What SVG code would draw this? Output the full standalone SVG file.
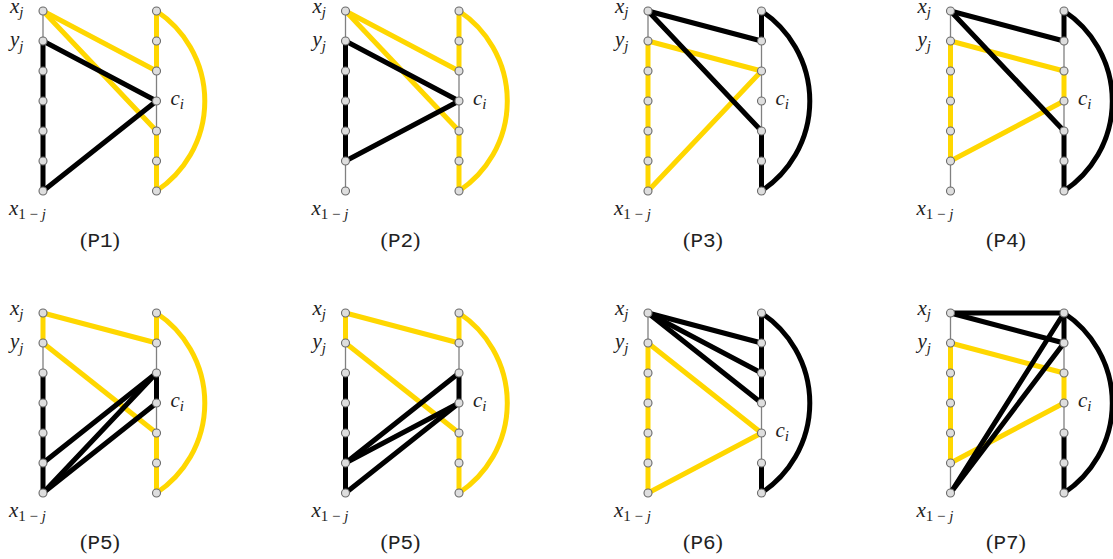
<svg xmlns="http://www.w3.org/2000/svg" xmlns:xlink="http://www.w3.org/1999/xlink" width="1113" height="559" viewBox="0 0 1113 559">
<style>
.bg{fill:#fff}
.thin{stroke:#808080;stroke-width:1.3;fill:none}
.y{stroke:#FFD700;stroke-width:5;fill:none;stroke-linecap:round;stroke-linejoin:round}
.k{stroke:#000;stroke-width:5;fill:none;stroke-linecap:round;stroke-linejoin:round}
.v{fill:#dedede;stroke:#6a6a6a;stroke-width:1.1}
.m{font-family:"Liberation Serif","DejaVu Serif",serif;font-style:italic;font-size:21px;fill:#222}
.s{font-size:15px}
.u{font-style:normal}
.cap{font-family:"Liberation Serif","DejaVu Serif",serif;font-size:22px;fill:#222}
.tt{font-family:"Liberation Mono","DejaVu Sans Mono",monospace;font-size:21px}
</style>
<defs>
<path id="arc" d="M113.5,0 A108 108 0 0 1 113.5,180"/>
<g id="cols">
<line class="thin" x1="0" y1="0" x2="0" y2="180"/>
<line class="thin" x1="113.5" y1="0" x2="113.5" y2="180"/>
</g>
</defs>
<rect class="bg" width="1113" height="559"/>

<!-- P1 -->
<g id="P1" transform="translate(43,11)">
<g id="P1-connectors">
<use xlink:href="#cols"/>
<line class="y" x1="113.5" y1="0" x2="113.5" y2="60"/>
<line class="y" x1="113.5" y1="120" x2="113.5" y2="180"/>
<line class="y" x1="0" y1="0" x2="113.5" y2="60"/>
<line class="y" x1="0" y1="0" x2="113.5" y2="120"/>
<use xlink:href="#arc" class="y"/>
<line class="k" x1="0" y1="30" x2="0" y2="180"/>
<line class="k" x1="0" y1="30" x2="113.5" y2="90"/>
<line class="k" x1="0" y1="180" x2="113.5" y2="90"/>
</g>
<g id="P1-L0"><circle class="v" cx="0" cy="0" r="4"/><text class="m" x="-33" y="2">x<tspan class="s" dy="4">j</tspan></text></g>
<g id="P1-L1"><circle class="v" cx="0" cy="30" r="4"/><text class="m" x="-33" y="35">y<tspan class="s" dy="5">j</tspan></text></g>
<g id="P1-L2"><circle class="v" cx="0" cy="60" r="4"/></g>
<g id="P1-L3"><circle class="v" cx="0" cy="90" r="4"/></g>
<g id="P1-L4"><circle class="v" cx="0" cy="120" r="4"/></g>
<g id="P1-L5"><circle class="v" cx="0" cy="150" r="4"/></g>
<g id="P1-L6"><circle class="v" cx="0" cy="180" r="4"/><text class="m" x="-34" y="204">x<tspan class="s u" dy="4">1 − </tspan><tspan class="s">j</tspan></text></g>
<g id="P1-R0"><circle class="v" cx="113.5" cy="0" r="4"/></g>
<g id="P1-R1"><circle class="v" cx="113.5" cy="30" r="4"/></g>
<g id="P1-R2"><circle class="v" cx="113.5" cy="60" r="4"/></g>
<g id="P1-R3"><circle class="v" cx="113.5" cy="90" r="4"/><text class="m" x="127.5" y="94">c<tspan class="s" dy="4">i</tspan></text></g>
<g id="P1-R4"><circle class="v" cx="113.5" cy="120" r="4"/></g>
<g id="P1-R5"><circle class="v" cx="113.5" cy="150" r="4"/></g>
<g id="P1-R6"><circle class="v" cx="113.5" cy="180" r="4"/></g>
<text class="cap" x="57" y="236" text-anchor="middle">(<tspan class="tt">P1</tspan>)</text>
</g>

<!-- P2 -->
<g id="P2" transform="translate(345.5,11)">
<g id="P2-connectors">
<use xlink:href="#cols"/>
<line class="y" x1="113.5" y1="0" x2="113.5" y2="60"/>
<line class="y" x1="113.5" y1="120" x2="113.5" y2="180"/>
<line class="y" x1="0" y1="0" x2="113.5" y2="60"/>
<line class="y" x1="0" y1="0" x2="113.5" y2="120"/>
<use xlink:href="#arc" class="y"/>
<line class="k" x1="0" y1="30" x2="0" y2="150"/>
<line class="k" x1="0" y1="30" x2="113.5" y2="90"/>
<line class="k" x1="0" y1="150" x2="113.5" y2="90"/>
</g>
<g id="P2-L0"><circle class="v" cx="0" cy="0" r="4"/><text class="m" x="-33" y="2">x<tspan class="s" dy="4">j</tspan></text></g>
<g id="P2-L1"><circle class="v" cx="0" cy="30" r="4"/><text class="m" x="-33" y="35">y<tspan class="s" dy="5">j</tspan></text></g>
<g id="P2-L2"><circle class="v" cx="0" cy="60" r="4"/></g>
<g id="P2-L3"><circle class="v" cx="0" cy="90" r="4"/></g>
<g id="P2-L4"><circle class="v" cx="0" cy="120" r="4"/></g>
<g id="P2-L5"><circle class="v" cx="0" cy="150" r="4"/></g>
<g id="P2-L6"><circle class="v" cx="0" cy="180" r="4"/><text class="m" x="-34" y="204">x<tspan class="s u" dy="4">1 − </tspan><tspan class="s">j</tspan></text></g>
<g id="P2-R0"><circle class="v" cx="113.5" cy="0" r="4"/></g>
<g id="P2-R1"><circle class="v" cx="113.5" cy="30" r="4"/></g>
<g id="P2-R2"><circle class="v" cx="113.5" cy="60" r="4"/></g>
<g id="P2-R3"><circle class="v" cx="113.5" cy="90" r="4"/><text class="m" x="127.5" y="94">c<tspan class="s" dy="4">i</tspan></text></g>
<g id="P2-R4"><circle class="v" cx="113.5" cy="120" r="4"/></g>
<g id="P2-R5"><circle class="v" cx="113.5" cy="150" r="4"/></g>
<g id="P2-R6"><circle class="v" cx="113.5" cy="180" r="4"/></g>
<text class="cap" x="55" y="236" text-anchor="middle">(<tspan class="tt">P2</tspan>)</text>
</g>

<!-- P3 -->
<g id="P3" transform="translate(648,11)">
<g id="P3-connectors">
<use xlink:href="#cols"/>
<line class="y" x1="0" y1="30" x2="0" y2="180"/>
<line class="y" x1="0" y1="30" x2="113.5" y2="60"/>
<line class="y" x1="0" y1="180" x2="113.5" y2="60"/>
<line class="k" x1="113.5" y1="0" x2="113.5" y2="30"/>
<line class="k" x1="113.5" y1="120" x2="113.5" y2="180"/>
<use xlink:href="#arc" class="k"/>
<line class="k" x1="0" y1="0" x2="113.5" y2="30"/>
<line class="k" x1="0" y1="0" x2="113.5" y2="120"/>
</g>
<g id="P3-L0"><circle class="v" cx="0" cy="0" r="4"/><text class="m" x="-33" y="2">x<tspan class="s" dy="4">j</tspan></text></g>
<g id="P3-L1"><circle class="v" cx="0" cy="30" r="4"/><text class="m" x="-33" y="35">y<tspan class="s" dy="5">j</tspan></text></g>
<g id="P3-L2"><circle class="v" cx="0" cy="60" r="4"/></g>
<g id="P3-L3"><circle class="v" cx="0" cy="90" r="4"/></g>
<g id="P3-L4"><circle class="v" cx="0" cy="120" r="4"/></g>
<g id="P3-L5"><circle class="v" cx="0" cy="150" r="4"/></g>
<g id="P3-L6"><circle class="v" cx="0" cy="180" r="4"/><text class="m" x="-34" y="204">x<tspan class="s u" dy="4">1 − </tspan><tspan class="s">j</tspan></text></g>
<g id="P3-R0"><circle class="v" cx="113.5" cy="0" r="4"/></g>
<g id="P3-R1"><circle class="v" cx="113.5" cy="30" r="4"/></g>
<g id="P3-R2"><circle class="v" cx="113.5" cy="60" r="4"/></g>
<g id="P3-R3"><circle class="v" cx="113.5" cy="90" r="4"/><text class="m" x="127.5" y="94">c<tspan class="s" dy="4">i</tspan></text></g>
<g id="P3-R4"><circle class="v" cx="113.5" cy="120" r="4"/></g>
<g id="P3-R5"><circle class="v" cx="113.5" cy="150" r="4"/></g>
<g id="P3-R6"><circle class="v" cx="113.5" cy="180" r="4"/></g>
<text class="cap" x="55" y="236" text-anchor="middle">(<tspan class="tt">P3</tspan>)</text>
</g>

<!-- P4 -->
<g id="P4" transform="translate(950.5,11)">
<g id="P4-connectors">
<use xlink:href="#cols"/>
<line class="y" x1="0" y1="30" x2="0" y2="150"/>
<line class="y" x1="113.5" y1="60" x2="113.5" y2="90"/>
<line class="y" x1="0" y1="30" x2="113.5" y2="60"/>
<line class="y" x1="0" y1="150" x2="113.5" y2="90"/>
<line class="k" x1="113.5" y1="0" x2="113.5" y2="30"/>
<line class="k" x1="113.5" y1="120" x2="113.5" y2="180"/>
<use xlink:href="#arc" class="k"/>
<line class="k" x1="0" y1="0" x2="113.5" y2="30"/>
<line class="k" x1="0" y1="0" x2="113.5" y2="120"/>
</g>
<g id="P4-L0"><circle class="v" cx="0" cy="0" r="4"/><text class="m" x="-33" y="2">x<tspan class="s" dy="4">j</tspan></text></g>
<g id="P4-L1"><circle class="v" cx="0" cy="30" r="4"/><text class="m" x="-33" y="35">y<tspan class="s" dy="5">j</tspan></text></g>
<g id="P4-L2"><circle class="v" cx="0" cy="60" r="4"/></g>
<g id="P4-L3"><circle class="v" cx="0" cy="90" r="4"/></g>
<g id="P4-L4"><circle class="v" cx="0" cy="120" r="4"/></g>
<g id="P4-L5"><circle class="v" cx="0" cy="150" r="4"/></g>
<g id="P4-L6"><circle class="v" cx="0" cy="180" r="4"/><text class="m" x="-34" y="204">x<tspan class="s u" dy="4">1 − </tspan><tspan class="s">j</tspan></text></g>
<g id="P4-R0"><circle class="v" cx="113.5" cy="0" r="4"/></g>
<g id="P4-R1"><circle class="v" cx="113.5" cy="30" r="4"/></g>
<g id="P4-R2"><circle class="v" cx="113.5" cy="60" r="4"/></g>
<g id="P4-R3"><circle class="v" cx="113.5" cy="90" r="4"/><text class="m" x="127.5" y="94">c<tspan class="s" dy="4">i</tspan></text></g>
<g id="P4-R4"><circle class="v" cx="113.5" cy="120" r="4"/></g>
<g id="P4-R5"><circle class="v" cx="113.5" cy="150" r="4"/></g>
<g id="P4-R6"><circle class="v" cx="113.5" cy="180" r="4"/></g>
<text class="cap" x="55.5" y="236" text-anchor="middle">(<tspan class="tt">P4</tspan>)</text>
</g>

<!-- P5 (a) -->
<g id="P5a" transform="translate(43,313)">
<g id="P5a-connectors">
<use xlink:href="#cols"/>
<line class="y" x1="0" y1="0" x2="0" y2="30"/>
<line class="y" x1="113.5" y1="0" x2="113.5" y2="30"/>
<line class="y" x1="113.5" y1="120" x2="113.5" y2="180"/>
<line class="y" x1="0" y1="0" x2="113.5" y2="30"/>
<line class="y" x1="0" y1="30" x2="113.5" y2="120"/>
<use xlink:href="#arc" class="y"/>
<line class="k" x1="0" y1="60" x2="0" y2="180"/>
<line class="k" x1="113.5" y1="60" x2="113.5" y2="90"/>
<line class="k" x1="0" y1="150" x2="113.5" y2="60"/>
<line class="k" x1="0" y1="180" x2="113.5" y2="60"/>
<line class="k" x1="0" y1="180" x2="113.5" y2="90"/>
</g>
<g id="P5a-L0"><circle class="v" cx="0" cy="0" r="4"/><text class="m" x="-33" y="2">x<tspan class="s" dy="4">j</tspan></text></g>
<g id="P5a-L1"><circle class="v" cx="0" cy="30" r="4"/><text class="m" x="-33" y="35">y<tspan class="s" dy="5">j</tspan></text></g>
<g id="P5a-L2"><circle class="v" cx="0" cy="60" r="4"/></g>
<g id="P5a-L3"><circle class="v" cx="0" cy="90" r="4"/></g>
<g id="P5a-L4"><circle class="v" cx="0" cy="120" r="4"/></g>
<g id="P5a-L5"><circle class="v" cx="0" cy="150" r="4"/></g>
<g id="P5a-L6"><circle class="v" cx="0" cy="180" r="4"/><text class="m" x="-34" y="204">x<tspan class="s u" dy="4">1 − </tspan><tspan class="s">j</tspan></text></g>
<g id="P5a-R0"><circle class="v" cx="113.5" cy="0" r="4"/></g>
<g id="P5a-R1"><circle class="v" cx="113.5" cy="30" r="4"/></g>
<g id="P5a-R2"><circle class="v" cx="113.5" cy="60" r="4"/></g>
<g id="P5a-R3"><circle class="v" cx="113.5" cy="90" r="4"/><text class="m" x="127.5" y="94">c<tspan class="s" dy="4">i</tspan></text></g>
<g id="P5a-R4"><circle class="v" cx="113.5" cy="120" r="4"/></g>
<g id="P5a-R5"><circle class="v" cx="113.5" cy="150" r="4"/></g>
<g id="P5a-R6"><circle class="v" cx="113.5" cy="180" r="4"/></g>
<text class="cap" x="57" y="236" text-anchor="middle">(<tspan class="tt">P5</tspan>)</text>
</g>

<!-- P5 (b) -->
<g id="P5b" transform="translate(345.5,313)">
<g id="P5b-connectors">
<use xlink:href="#cols"/>
<line class="y" x1="0" y1="0" x2="0" y2="30"/>
<line class="y" x1="113.5" y1="0" x2="113.5" y2="30"/>
<line class="y" x1="113.5" y1="120" x2="113.5" y2="180"/>
<line class="y" x1="0" y1="0" x2="113.5" y2="30"/>
<line class="y" x1="0" y1="30" x2="113.5" y2="120"/>
<use xlink:href="#arc" class="y"/>
<line class="k" x1="0" y1="60" x2="0" y2="180"/>
<line class="k" x1="113.5" y1="60" x2="113.5" y2="90"/>
<line class="k" x1="0" y1="150" x2="113.5" y2="60"/>
<line class="k" x1="0" y1="150" x2="113.5" y2="90"/>
<line class="k" x1="0" y1="180" x2="113.5" y2="90"/>
</g>
<g id="P5b-L0"><circle class="v" cx="0" cy="0" r="4"/><text class="m" x="-33" y="2">x<tspan class="s" dy="4">j</tspan></text></g>
<g id="P5b-L1"><circle class="v" cx="0" cy="30" r="4"/><text class="m" x="-33" y="35">y<tspan class="s" dy="5">j</tspan></text></g>
<g id="P5b-L2"><circle class="v" cx="0" cy="60" r="4"/></g>
<g id="P5b-L3"><circle class="v" cx="0" cy="90" r="4"/></g>
<g id="P5b-L4"><circle class="v" cx="0" cy="120" r="4"/></g>
<g id="P5b-L5"><circle class="v" cx="0" cy="150" r="4"/></g>
<g id="P5b-L6"><circle class="v" cx="0" cy="180" r="4"/><text class="m" x="-34" y="204">x<tspan class="s u" dy="4">1 − </tspan><tspan class="s">j</tspan></text></g>
<g id="P5b-R0"><circle class="v" cx="113.5" cy="0" r="4"/></g>
<g id="P5b-R1"><circle class="v" cx="113.5" cy="30" r="4"/></g>
<g id="P5b-R2"><circle class="v" cx="113.5" cy="60" r="4"/></g>
<g id="P5b-R3"><circle class="v" cx="113.5" cy="90" r="4"/><text class="m" x="127.5" y="94">c<tspan class="s" dy="4">i</tspan></text></g>
<g id="P5b-R4"><circle class="v" cx="113.5" cy="120" r="4"/></g>
<g id="P5b-R5"><circle class="v" cx="113.5" cy="150" r="4"/></g>
<g id="P5b-R6"><circle class="v" cx="113.5" cy="180" r="4"/></g>
<text class="cap" x="55" y="236" text-anchor="middle">(<tspan class="tt">P5</tspan>)</text>
</g>

<!-- P6 -->
<g id="P6" transform="translate(648,313)">
<g id="P6-connectors">
<use xlink:href="#cols"/>
<line class="y" x1="0" y1="30" x2="0" y2="180"/>
<line class="y" x1="0" y1="30" x2="113.5" y2="120"/>
<line class="y" x1="0" y1="180" x2="113.5" y2="120"/>
<line class="k" x1="113.5" y1="0" x2="113.5" y2="90"/>
<line class="k" x1="113.5" y1="150" x2="113.5" y2="180"/>
<use xlink:href="#arc" class="k"/>
<line class="k" x1="0" y1="0" x2="113.5" y2="30"/>
<line class="k" x1="0" y1="0" x2="113.5" y2="60"/>
<line class="k" x1="0" y1="0" x2="113.5" y2="90"/>
</g>
<g id="P6-L0"><circle class="v" cx="0" cy="0" r="4"/><text class="m" x="-33" y="2">x<tspan class="s" dy="4">j</tspan></text></g>
<g id="P6-L1"><circle class="v" cx="0" cy="30" r="4"/><text class="m" x="-33" y="35">y<tspan class="s" dy="5">j</tspan></text></g>
<g id="P6-L2"><circle class="v" cx="0" cy="60" r="4"/></g>
<g id="P6-L3"><circle class="v" cx="0" cy="90" r="4"/></g>
<g id="P6-L4"><circle class="v" cx="0" cy="120" r="4"/></g>
<g id="P6-L5"><circle class="v" cx="0" cy="150" r="4"/></g>
<g id="P6-L6"><circle class="v" cx="0" cy="180" r="4"/><text class="m" x="-34" y="204">x<tspan class="s u" dy="4">1 − </tspan><tspan class="s">j</tspan></text></g>
<g id="P6-R0"><circle class="v" cx="113.5" cy="0" r="4"/></g>
<g id="P6-R1"><circle class="v" cx="113.5" cy="30" r="4"/></g>
<g id="P6-R2"><circle class="v" cx="113.5" cy="60" r="4"/></g>
<g id="P6-R3"><circle class="v" cx="113.5" cy="90" r="4"/></g>
<g id="P6-R4"><circle class="v" cx="113.5" cy="120" r="4"/><text class="m" x="127.5" y="124">c<tspan class="s" dy="4">i</tspan></text></g>
<g id="P6-R5"><circle class="v" cx="113.5" cy="150" r="4"/></g>
<g id="P6-R6"><circle class="v" cx="113.5" cy="180" r="4"/></g>
<text class="cap" x="55" y="236" text-anchor="middle">(<tspan class="tt">P6</tspan>)</text>
</g>

<!-- P7 -->
<g id="P7" transform="translate(950.5,313)">
<g id="P7-connectors">
<use xlink:href="#cols"/>
<line class="y" x1="0" y1="30" x2="0" y2="150"/>
<line class="y" x1="113.5" y1="60" x2="113.5" y2="90"/>
<line class="y" x1="0" y1="30" x2="113.5" y2="60"/>
<line class="y" x1="0" y1="150" x2="113.5" y2="90"/>
<line class="k" x1="113.5" y1="0" x2="113.5" y2="30"/>
<line class="k" x1="113.5" y1="120" x2="113.5" y2="180"/>
<use xlink:href="#arc" class="k"/>
<line class="k" x1="0" y1="0" x2="113.5" y2="0"/>
<line class="k" x1="0" y1="0" x2="113.5" y2="30"/>
<line class="k" x1="0" y1="180" x2="113.5" y2="0"/>
<line class="k" x1="0" y1="180" x2="113.5" y2="30"/>
</g>
<g id="P7-L0"><circle class="v" cx="0" cy="0" r="4"/><text class="m" x="-33" y="2">x<tspan class="s" dy="4">j</tspan></text></g>
<g id="P7-L1"><circle class="v" cx="0" cy="30" r="4"/><text class="m" x="-33" y="35">y<tspan class="s" dy="5">j</tspan></text></g>
<g id="P7-L2"><circle class="v" cx="0" cy="60" r="4"/></g>
<g id="P7-L3"><circle class="v" cx="0" cy="90" r="4"/></g>
<g id="P7-L4"><circle class="v" cx="0" cy="120" r="4"/></g>
<g id="P7-L5"><circle class="v" cx="0" cy="150" r="4"/></g>
<g id="P7-L6"><circle class="v" cx="0" cy="180" r="4"/><text class="m" x="-34" y="204">x<tspan class="s u" dy="4">1 − </tspan><tspan class="s">j</tspan></text></g>
<g id="P7-R0"><circle class="v" cx="113.5" cy="0" r="4"/></g>
<g id="P7-R1"><circle class="v" cx="113.5" cy="30" r="4"/></g>
<g id="P7-R2"><circle class="v" cx="113.5" cy="60" r="4"/></g>
<g id="P7-R3"><circle class="v" cx="113.5" cy="90" r="4"/><text class="m" x="127.5" y="94">c<tspan class="s" dy="4">i</tspan></text></g>
<g id="P7-R4"><circle class="v" cx="113.5" cy="120" r="4"/></g>
<g id="P7-R5"><circle class="v" cx="113.5" cy="150" r="4"/></g>
<g id="P7-R6"><circle class="v" cx="113.5" cy="180" r="4"/></g>
<text class="cap" x="55.5" y="236" text-anchor="middle">(<tspan class="tt">P7</tspan>)</text>
</g>
</svg>
